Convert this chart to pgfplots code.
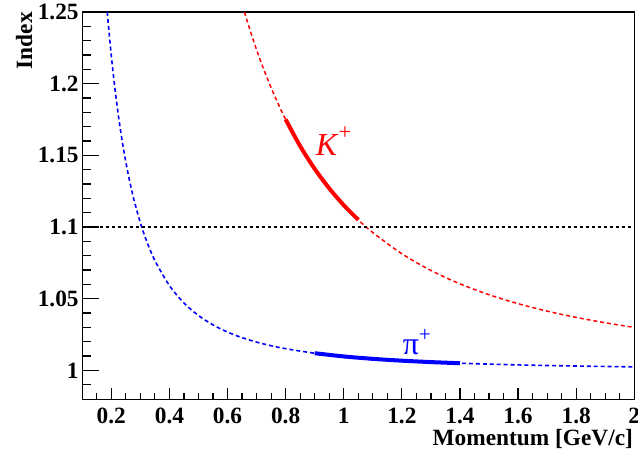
\documentclass[border=0pt]{standalone}
\usepackage{fontspec}
\setmainfont{Liberation Serif}
\usepackage{pgfplots}
\pgfplotsset{compat=1.18}
\definecolor{rootblue}{RGB}{0,0,255}
\definecolor{rootred}{RGB}{255,0,0}
\begin{document}
\begin{tikzpicture}
\path[use as bounding box] (-61.7pt,-41.25pt) rectangle (416.8pt,299.25pt);
\pgfplotsset{
  common/.style={
    at={(0pt,0pt)}, anchor=south west,
    scale only axis, width=414pt, height=290.25pt,
    xmin=0.1, xmax=2, ymin=0.98, ymax=1.25,
    axis line style={line width=0.75pt, black},
    tick align=inside, xtick pos=bottom, ytick pos=left,
    tick style={black, line width=0.9pt},
  }
}
\begin{axis}[common,
    xtick={0.2,0.4,0.6,0.8,1,1.2,1.4,1.6,1.8,2},
    xticklabels={0.2,0.4,0.6,0.8,1,1.2,1.4,1.6,1.8,2},
    minor xtick={0.15,0.25,0.3,0.35,0.45,0.5,0.55,0.65,0.7,0.75,0.85,0.9,0.95,1.05,1.1,1.15,1.25,1.3,1.35,1.45,1.5,1.55,1.65,1.7,1.75,1.85,1.9,1.95},
    major tick length=8pt, minor tick length=4.3pt,
    ytick={1,1.05,1.1,1.15,1.2,1.25},
    yticklabels={1,1.05,1.1,1.15,1.2,1.25},
    xticklabel style={anchor=north, inner sep=0pt, yshift=-6.3pt, font=\fontsize{17.5}{17.5}\selectfont\bfseries},
    yticklabel style={anchor=east, inner sep=0pt, xshift=-2.5pt, font=\fontsize{17.5}{17.5}\selectfont\bfseries},
    xlabel={Momentum [GeV/c]},
    xlabel style={at={(axis description cs:0.998,-0.1189)}, anchor=base east, inner sep=0pt, font=\fontsize{17.5}{17.5}\selectfont\bfseries},
    ylabel={Index},
    ylabel style={at={(axis description cs:-0.091,1)}, anchor=base east, inner sep=0pt, font=\fontsize{17.5}{17.5}\selectfont\bfseries},
]
% pion, dashed
\addplot[rootblue, line width=1.2pt, dash pattern=on 3pt off 2.2pt, smooth] coordinates {
(0.1861,1.25) (0.19,1.24081) (0.20,1.21943) (0.21,1.20072) (0.22,1.18426) (0.23,1.16972)
(0.24,1.15680) (0.25,1.14529) (0.26,1.13497) (0.27,1.12571) (0.28,1.11735) (0.30,1.10293)
(0.32,1.09097) (0.35,1.07657) (0.40,1.05913) (0.45,1.04699) (0.50,1.03823) (0.55,1.03170)
(0.60,1.02670) (0.65,1.02279) (0.70,1.01968) (0.75,1.01717) (0.80,1.01511) (0.90,1.01195)
(1.0,1.00969) (1.1,1.00802) (1.2,1.00674) (1.3,1.00575) (1.4,1.00496) (1.6,1.00380)
(1.8,1.00300) (2.0,1.00243)};
% kaon, dashed
\addplot[rootred, line width=1.1pt, dash pattern=on 3pt off 2.2pt, smooth] coordinates {
(0.6583,1.25) (0.68,1.23575) (0.70,1.22367) (0.725,1.20982) (0.75,1.19719) (0.775,1.18565)
(0.80,1.17508) (0.85,1.15643) (0.90,1.14056) (0.95,1.12697) (1.0,1.11522) (1.05,1.10502)
(1.1,1.09609) (1.2,1.08132) (1.3,1.06967) (1.4,1.06035) (1.5,1.05277) (1.6,1.04652)
(1.7,1.04131) (1.8,1.03693) (1.9,1.03320) (2.0,1.02996)};
% threshold line
\addplot[black, line width=2.2pt, dash pattern=on 2.2pt off 2.3pt] coordinates {(0.1,1.1) (2,1.1)};
% solid segments
\addplot[rootblue, line width=3pt, smooth] coordinates {
(0.9,1.01195) (1.0,1.00969) (1.1,1.00802) (1.2,1.00674) (1.3,1.00575) (1.4,1.00496)};
\addplot[rootred, line width=3pt, smooth] coordinates {
(0.80,1.17508) (0.85,1.15643) (0.90,1.14056) (0.95,1.12697) (1.0,1.11522) (1.05,1.10502)};
\node[anchor=base west, inner sep=0pt, text=rootred, font=\fontsize{24}{24}\selectfont] at (axis cs:0.903,1.1501)
  {\textit{K}\raisebox{12pt}{\fontsize{17}{17}\selectfont +}};
\node[anchor=base west, inner sep=0pt, text=rootblue, font=\fontsize{24}{24}\selectfont] at (axis cs:1.2024,1.011)
  {π\raisebox{10pt}{\fontsize{16}{16}\selectfont +}};
\end{axis}
\begin{axis}[common,
    xtick=\empty,
    ytick={1,1.05,1.1,1.15,1.2,1.25},
    minor ytick={0.99,1.01,1.02,1.03,1.04,1.06,1.07,1.08,1.09,1.11,1.12,1.13,1.14,1.16,1.17,1.18,1.19,1.21,1.22,1.23,1.24},
    yticklabels={,,,,,},
    major tick length=12.75pt, minor tick length=6.5pt,
]
\end{axis}
\end{tikzpicture}
\end{document}
